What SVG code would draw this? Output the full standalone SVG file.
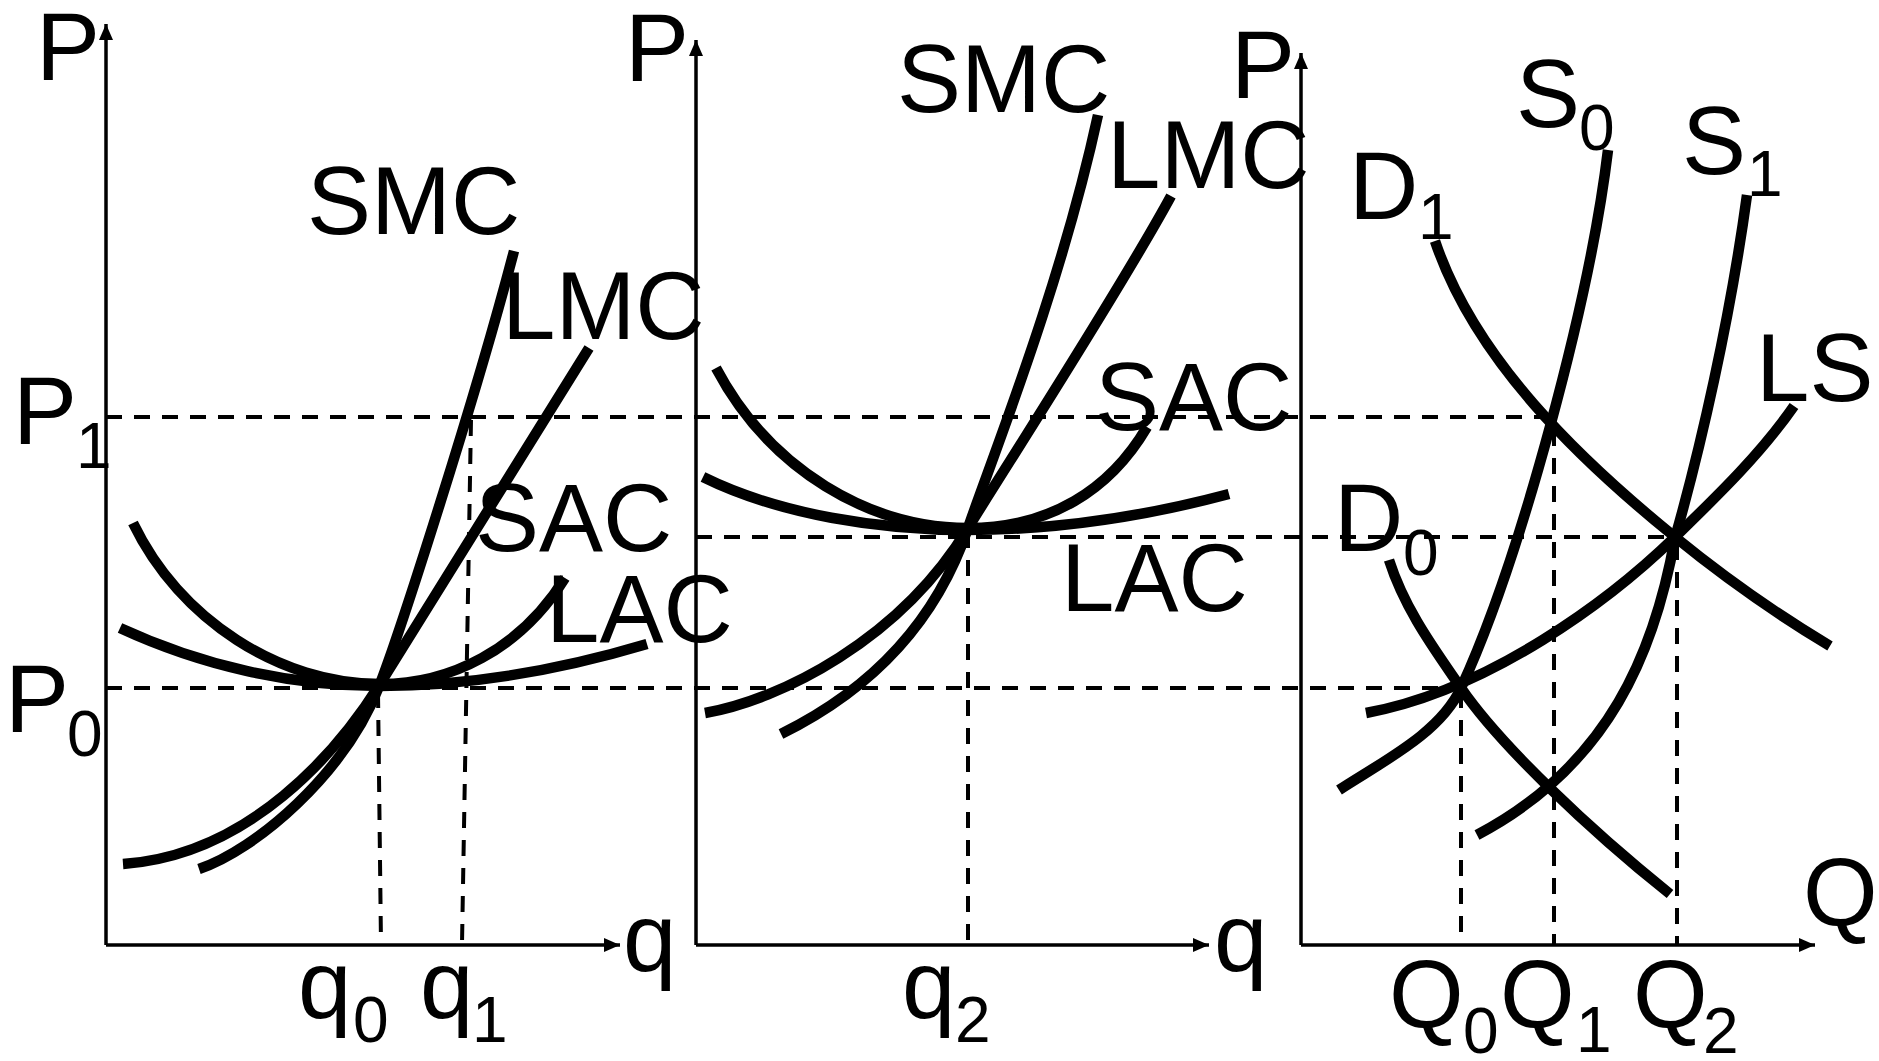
<svg xmlns="http://www.w3.org/2000/svg" width="1879" height="1061" viewBox="0 0 1879 1061">
<defs>
<marker id="arr" markerUnits="userSpaceOnUse" markerWidth="18" markerHeight="16" refX="16" refY="7" orient="auto"><path d="M0,0 L16,7 L0,14 Z" fill="#000"/></marker>
</defs>
<style>
.ax{stroke:#000;stroke-width:3.5;fill:none}
.dash{stroke:#000;stroke-width:4;fill:none;stroke-dasharray:16 12}
.cv{stroke:#000;stroke-width:10.5;fill:none}
text{font-family:"Liberation Sans",Arial,sans-serif;fill:#000}
.lb{font-size:96px}
.sb{font-size:64px}
</style>
<rect width="1879" height="1061" fill="#fff"/>
<g id="connectors">
<g id="axes">
<line class="ax" x1="106" y1="945" x2="106" y2="24" marker-end="url(#arr)"/>
<line class="ax" x1="106" y1="945" x2="620" y2="945" marker-end="url(#arr)"/>
<line class="ax" x1="696" y1="945" x2="696" y2="40" marker-end="url(#arr)"/>
<line class="ax" x1="696" y1="945" x2="1209" y2="945" marker-end="url(#arr)"/>
<line class="ax" x1="1301" y1="945" x2="1301" y2="53" marker-end="url(#arr)"/>
<line class="ax" x1="1301" y1="945" x2="1815" y2="945" marker-end="url(#arr)"/>
</g>
<g id="guides">
<line class="dash" x1="106" y1="417" x2="1548" y2="417"/>
<line class="dash" x1="106" y1="688" x2="1461" y2="688"/>
<line class="dash" x1="696" y1="537" x2="1675" y2="537"/>
<line class="dash" x1="378" y1="692" x2="381" y2="944"/>
<line class="dash" x1="471" y1="420" x2="462" y2="944"/>
<line class="dash" x1="968" y1="532" x2="968" y2="944"/>
<line class="dash" x1="1461" y1="692" x2="1461" y2="944"/>
<line class="dash" x1="1554" y1="430" x2="1554" y2="944"/>
<line class="dash" x1="1677" y1="544" x2="1677" y2="944"/>
</g>
</g>
<g id="curve-SMC1"><path class="cv" d="M199,869 C255,850 345,775 380,684 C400,632 475,400 514,251"/></g>
<g id="curve-LMC1"><path class="cv" d="M123,864 C250,855 338,751 380,684 L589,348"/></g>
<g id="curve-SAC1"><path class="cv" d="M133,523 C180,620 280,684 380,684 C450,684 520,650 565,578"/></g>
<g id="curve-LAC1"><path class="cv" d="M120,628 C200,665 290,686 380,686 C470,686 560,670 647,644"/></g>
<g id="curve-SMC2"><path class="cv" d="M781,734 C850,700 930,640 968,528 C990,463 1060,290 1098,115"/></g>
<g id="curve-LMC2"><path class="cv" d="M705,713 C780,700 900,640 968,528 C1010,460 1120,290 1171,196"/></g>
<g id="curve-SAC2"><path class="cv" d="M716,368 C770,470 870,528 968,528 C1050,528 1110,490 1147,427"/></g>
<g id="curve-LAC2"><path class="cv" d="M703,477 C780,515 880,530 968,530 C1060,530 1150,515 1229,494"/></g>
<g id="curve-S0"><path class="cv" d="M1608,150 C1590,300 1520,560 1461,688 C1440,733 1385,760 1339,790"/></g>
<g id="curve-S1"><path class="cv" d="M1747,195 C1730,320 1700,450 1675,538 C1655,650 1610,765 1477,835"/></g>
<g id="curve-D1"><path class="cv" d="M1435,241 C1475,360 1580,460 1675,537 C1735,586 1790,622 1830,646"/></g>
<g id="curve-D0"><path class="cv" d="M1389,560 C1405,610 1435,650 1461,688 C1500,745 1590,830 1670,894"/></g>
<g id="curve-LS"><path class="cv" d="M1794,406 C1760,455 1715,498 1675,537 C1610,600 1490,690 1366,713"/></g>
<g id="labels">
<text class="lb" x="36" y="80">P</text>
<text class="lb" x="13" y="444">P</text><text class="sb" x="76" y="468">1</text>
<text class="lb" x="5" y="732">P</text><text class="sb" x="67" y="756">0</text>
<text class="lb" x="307" y="234">SMC</text>
<text class="lb" x="502" y="339">LMC</text>
<text class="lb" x="475" y="551">SAC</text>
<text class="lb" x="546" y="642">LAC</text>
<text class="lb" x="623" y="971">q</text>
<text class="lb" x="298" y="1018">q</text><text class="sb" x="353" y="1042">0</text>
<text class="lb" x="420" y="1018">q</text><text class="sb" x="472" y="1042">1</text>
<text class="lb" x="625" y="81">P</text>
<text class="lb" x="897" y="112">SMC</text>
<text class="lb" x="1107" y="188">LMC</text>
<text class="lb" x="1095" y="430">SAC</text>
<text class="lb" x="1061" y="611">LAC</text>
<text class="lb" x="1214" y="971">q</text>
<text class="lb" x="902" y="1018">q</text><text class="sb" x="955" y="1042">2</text>
<text class="lb" x="1231" y="98">P</text>
<text class="lb" x="1516" y="127">S</text><text class="sb" x="1579" y="150">0</text>
<text class="lb" x="1682" y="174">S</text><text class="sb" x="1747" y="196">1</text>
<text class="lb" x="1349" y="219">D</text><text class="sb" x="1418" y="239">1</text>
<text class="lb" x="1756" y="401">LS</text>
<text class="lb" x="1334" y="551">D</text><text class="sb" x="1403" y="575">0</text>
<text class="lb" x="1803" y="926">Q</text>
<text class="lb" x="1389" y="1028">Q</text><text class="sb" x="1463" y="1053">0</text>
<text class="lb" x="1500" y="1028">Q</text><text class="sb" x="1576" y="1052">1</text>
<text class="lb" x="1633" y="1028">Q</text><text class="sb" x="1703" y="1053">2</text>
</g>
</svg>
